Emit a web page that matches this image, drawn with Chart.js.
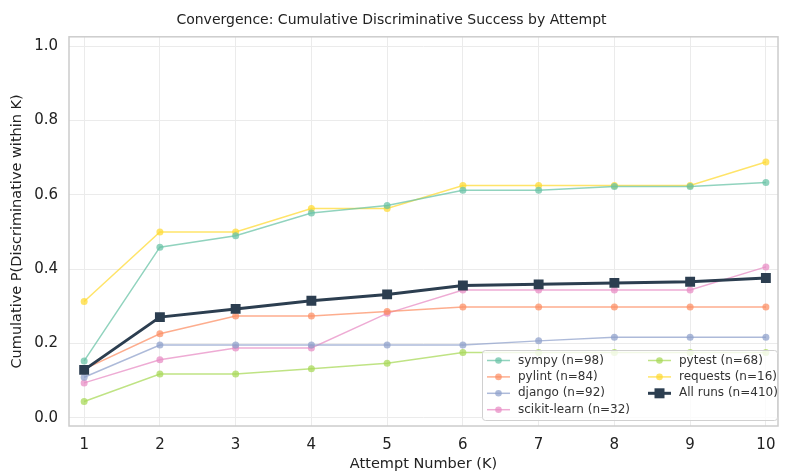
<!DOCTYPE html>
<html>
<head>
<meta charset="utf-8">
<script src="https://cdn.jsdelivr.net/npm/chart.js@4"></script>
<style>
  html, body { margin: 0; padding: 0; background: #fff; }
  #wrap { width: 785px; height: 475px; }
</style>
</head>
<body>
<div id="wrap"><canvas id="myChart" width="785" height="475"></canvas></div>
<script>
// attempts K = 1..10
var attempts = [1, 2, 3, 4, 5, 6, 7, 8, 9, 10];
var yTicks = [0.0, 0.2, 0.4, 0.6, 0.8, 1.0];

var sympy   = [0.153, 0.459, 0.490, 0.551, 0.571, 0.612, 0.612, 0.622, 0.622, 0.633];
var pylint  = [0.131, 0.226, 0.274, 0.274, 0.286, 0.298, 0.298, 0.298, 0.298, 0.298];
var django  = [0.109, 0.196, 0.196, 0.196, 0.196, 0.196, 0.207, 0.217, 0.217, 0.217];
var sklearn = [0.094, 0.156, 0.188, 0.188, 0.281, 0.344, 0.344, 0.344, 0.344, 0.406];
var pytest  = [0.044, 0.118, 0.118, 0.132, 0.147, 0.176, 0.176, 0.176, 0.176, 0.176];
var requests = [0.313, 0.500, 0.500, 0.563, 0.563, 0.625, 0.625, 0.625, 0.625, 0.688];
var allRuns = [0.129, 0.271, 0.293, 0.315, 0.332, 0.356, 0.359, 0.363, 0.366, 0.376];

var FONT = "'DejaVu Sans', sans-serif";

function pts(arr) {
    return attempts.map(function (k, i) { return { x: k, y: arr[i] }; });
}

function repo(label, arr, color) {
    return {
        label: label,
        data: pts(arr),
        borderColor: color,
        backgroundColor: color,
        borderWidth: 1.5,
        pointRadius: 3.5,
        pointHoverRadius: 3.5,
        pointBorderWidth: 0,
        order: 2
    };
}

var datasets = [
    repo('sympy (n=98)', sympy, 'rgba(102,194,165,0.72)'),
    repo('pylint (n=84)', pylint, 'rgba(252,141,98,0.72)'),
    repo('django (n=92)', django, 'rgba(141,160,203,0.72)'),
    repo('scikit-learn (n=32)', sklearn, 'rgba(231,138,195,0.72)'),
    repo('pytest (n=68)', pytest, 'rgba(166,216,84,0.72)'),
    repo('requests (n=16)', requests, 'rgba(255,217,47,0.72)'),
    {
        label: 'All runs (n=410)',
        data: pts(allRuns),
        borderColor: '#2c3e50',
        backgroundColor: '#2c3e50',
        borderWidth: 3,
        pointStyle: 'rect',
        pointRadius: 7,
        pointHoverRadius: 7,
        pointBorderWidth: 0,
        order: 1
    }
];

// legend drawn inside the plot, lower right, two columns
var insideLegend = {
    id: 'insideLegend',
    afterDraw: function (chart) {
        var ctx = chart.ctx;
        var area = chart.chartArea;
        var w = 295, h = 70;
        var x0 = area.right - w - 1, y0 = area.bottom - h - 6;
        ctx.save();
        ctx.fillStyle = 'rgba(255,255,255,0.8)';
        ctx.strokeStyle = '#d0d0d0';
        ctx.lineWidth = 1;
        ctx.beginPath();
        ctx.roundRect(x0 + 0.5, y0 + 0.5, w, h, 3);
        ctx.fill();
        ctx.stroke();
        ctx.font = '12px ' + FONT;
        ctx.textBaseline = 'middle';
        var colX = [x0 + 5, x0 + 166];
        var rowH = 16.4;
        chart.data.datasets.forEach(function (ds, i) {
            var col = i < 4 ? 0 : 1;
            var row = i < 4 ? i : i - 4;
            var lx = colX[col];
            var ly = y0 + 10.5 + row * rowH;
            ctx.strokeStyle = ds.borderColor;
            ctx.lineWidth = ds.borderWidth;
            ctx.beginPath();
            ctx.moveTo(lx, ly);
            ctx.lineTo(lx + 23, ly);
            ctx.stroke();
            ctx.fillStyle = ds.backgroundColor;
            if (ds.pointStyle === 'rect') {
                ctx.fillRect(lx + 11.5 - 5, ly - 5, 10, 10);
            } else {
                ctx.beginPath();
                ctx.arc(lx + 11.5, ly, 3.3, 0, Math.PI * 2);
                ctx.fill();
            }
            ctx.fillStyle = '#333';
            ctx.fillText(ds.label, lx + 31, ly);
        });
        ctx.restore();
    }
};

// frame around the plot area
var frame = {
    id: 'frame',
    afterDatasetsDraw: function (chart) {
        var ctx = chart.ctx, a = chart.chartArea;
        ctx.save();
        ctx.strokeStyle = '#cccccc';
        ctx.lineWidth = 1.5;
        ctx.strokeRect(a.left, a.top, a.right - a.left, a.bottom - a.top);
        ctx.restore();
    }
};

var context = document.getElementById('myChart');
var graph = new Chart(context, {
    type: 'line',
    data: { datasets: datasets },
    options: {
        responsive: false,
        animation: false,
        layout: { padding: { left: 0, right: 2, top: 0, bottom: 0 } },
        plugins: {
            legend: { display: false },
            tooltip: { enabled: false },
            title: {
                display: true,
                text: 'Convergence: Cumulative Discriminative Success by Attempt',
                color: '#222',
                font: { family: FONT, size: 14, weight: 'normal' },
                padding: { top: 12, bottom: 8 }
            }
        },
        scales: {
            x: {
                type: 'linear',
                min: 0.8,
                max: 10.16,
                afterFit: function (scale) { scale.height = 49; },
                afterBuildTicks: function (axis) {
                    axis.ticks = attempts.map(function (v) { return { value: v }; });
                },
                ticks: {
                    color: '#222',
                    // tall line height pushes the labels down without tick padding,
                    // so no extra room is reserved on the right for "10"
                    font: { family: FONT, size: 15, lineHeight: 2.5 },
                    padding: 0,
                    maxRotation: 0,
                    callback: function (v) { return String(v); }
                },
                grid: { color: '#ebebeb', lineWidth: 1, drawTicks: false },
                border: { display: false },
                title: {
                    display: true,
                    text: 'Attempt Number (K)',
                    color: '#222',
                    font: { family: FONT, size: 14.5 },
                    padding: { top: 2, bottom: 2 }
                }
            },
            y: {
                min: -0.022,
                max: 1.025,
                afterFit: function (scale) { scale.width = 69; },
                afterBuildTicks: function (axis) {
                    axis.ticks = yTicks.map(function (v) { return { value: v }; });
                },
                ticks: {
                    color: '#222',
                    font: { family: FONT, size: 15 },
                    padding: 11,
                    callback: function (v) { return v.toFixed(1); }
                },
                grid: { color: '#ebebeb', lineWidth: 1, drawTicks: false },
                border: { display: false },
                title: {
                    display: true,
                    text: 'Cumulative P(Discriminative within K)',
                    color: '#222',
                    font: { family: FONT, size: 14.5 },
                    padding: { top: 9, bottom: 0 }
                }
            }
        }
    },
    plugins: [frame, insideLegend]
});
</script>
</body>
</html>
